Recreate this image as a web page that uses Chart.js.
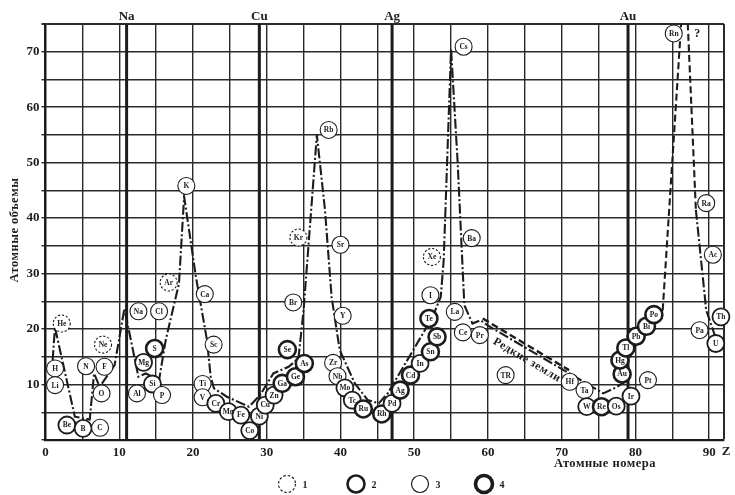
<!DOCTYPE html>
<html><head><meta charset="utf-8">
<script src="https://cdn.jsdelivr.net/npm/chart.js@4.4.1/dist/chart.umd.min.js"></script>
<style>html,body{margin:0;padding:0;background:#fff;}#wrap{width:735px;height:495px;}</style>
</head><body><div id="wrap"><canvas id="c" width="735" height="495"></canvas></div>
<script>
// ---------- data ----------
const elements = ['H','He','Li','Be','B','C','N','O','F','Ne','Na','Mg','Al','Si','P','S','Cl','Ar','K','Ca','Sc','Ti','V','Cr','Mn','Fe','Co','Ni','Cu','Zn','Ga','Ge','As','Se','Br','Kr','Rb','Sr','Y','Zr','Nb','Mo','Tc','Ru','Rh','Pd','Ag','Cd','In','Sn','Sb','Te','I','Xe','Cs','Ba','La','Ce','Pr','TR','Hf','Ta','W','Re','Os','Ir','Pt','Au','Hg','Tl','Pb','Bi','Po','Rn','Ra','Ac','Th','Pa','U'];
const elemZ = [1.3,2.2,1.3,2.9,5.1,7.4,5.5,7.6,8.0,7.8,12.6,13.3,12.4,14.5,15.8,14.8,15.4,16.7,19.1,21.6,22.8,21.3,21.3,23.1,24.8,26.5,27.7,29.0,29.8,31.0,32.1,33.9,35.1,32.8,33.6,34.3,38.4,40.0,40.3,39.0,39.6,40.6,41.6,43.1,45.6,47.0,48.1,49.5,50.8,52.2,53.1,52.0,52.2,52.4,56.7,57.8,55.5,56.6,58.9,62.4,71.1,73.1,73.4,75.4,77.4,79.4,81.7,78.2,77.9,78.7,80.1,81.5,82.5,85.2,89.6,90.5,91.6,88.7,90.9];
const elemV = [12.9,21.0,9.9,2.7,2.1,2.2,13.3,8.4,13.2,17.2,23.2,14.0,8.4,10.1,8.1,16.5,23.2,28.4,45.8,26.3,17.2,10.1,7.7,6.6,5.1,4.5,1.7,4.3,6.3,8.1,10.2,11.4,13.8,16.3,24.8,36.5,55.9,35.2,22.4,13.9,11.5,9.4,7.2,5.6,4.7,6.6,9.0,11.7,13.8,15.9,18.6,21.9,26.1,33.0,70.9,36.4,23.1,19.4,18.9,11.7,10.5,9.0,6.0,6.0,6.1,7.9,10.8,11.9,14.4,16.6,18.7,20.5,22.6,73.3,42.7,33.4,22.2,19.8,17.4];
// 1 = dashed, 2 = medium, 3 = thin, 4 = thick circle
const elemType = [3,1,3,2,2,3,3,3,3,1,3,2,3,2,3,4,3,1,3,3,3,3,3,2,2,2,2,2,2,2,4,4,4,4,3,1,3,3,3,3,3,2,2,4,4,2,4,4,2,4,4,4,3,1,3,3,3,3,3,3,3,3,2,4,2,2,3,4,4,4,4,4,4,3,3,3,2,3,2];

const curveZ = [0.97,1.28,3.98,6.0,6.58,7.35,9.37,10.7,12.6,13.6,15.4,16.3,18.1,18.8,20.4,21.9,22.4,22.85,24.6,27.6,29.1,30.9,32.96,34.3,35.0,36.8,37.9,38.8,39.9,41.95,43.7,45.2,46.4,49.6,52.5,53.6,54.0,55.0,55.9,56.8,57.9,59.0,59.9,75.65,77.4,78.6,79.0,79.9,83.7];
const curveV = [14.4,20.3,4.2,3.7,12.0,9.6,13.5,23.7,11.4,12.0,10.8,18.0,28.2,43.9,29.4,18.0,11.4,9.3,7.8,6.0,8.1,12.0,13.2,14.7,23.4,55.0,41.5,25.8,16.2,10.2,7.2,6.6,8.4,15.6,22.2,25.8,32.4,70.5,49.9,24.3,21.0,21.6,20.7,8.4,9.5,10.5,14.1,16.8,23.4];
const peakZ = [83.7,86.74,88.2];
const peakV = [23.4,86.1,41.5];
const tailZ = [88.2,89.6,91.1];
const tailV = [41.5,23.4,17.6];
const rareZ = [59.3,71.0];
const rareV = [21.9,12.6];

const xTickValues = [0,5,10,15,20,25,30,35,40,45,50,55,60,65,70,75,80,85,90,92];
const yTickValues = [0,5,10,15,20,25,30,35,40,45,50,55,60,65,70,75];
const groupZ = [11,29,47,79];
const groupNames = ['Na','Cu','Ag','Au'];
const legendLabels = ['1','2','3','4'];

// ---------- drawing ----------
const SERIF = '"Liberation Serif","DejaVu Serif",serif';
const INK = '#1c1c1c';
const typeWidth = {1:0, 2:1.8, 3:1.1, 4:2.6};
const pts = (xs, ys) => xs.map((v, i) => ({x: v, y: ys[i]}));
const lineDs = (data, dash, width, extra) => Object.assign({
  data, showLine: true, pointRadius: 0, borderColor: INK, borderWidth: width,
  borderDash: dash, tension: 0, order: 1
}, extra || {});

function ring(c, x, y, r, w, dash) {
  c.save();
  c.beginPath(); c.arc(x, y, r, 0, Math.PI * 2);
  c.fillStyle = '#fff'; c.fill();
  c.lineWidth = w; c.strokeStyle = INK;
  c.setLineDash(dash || []);
  c.stroke();
  c.restore();
}
function spaced(c, px) { try { c.letterSpacing = px; } catch (e) {} }

const decor = {
  id: 'decor',
  beforeDraw(chart) {
    const c = chart.ctx; c.save(); c.fillStyle = '#fff'; c.fillRect(0, 0, chart.width, chart.height); c.restore();
  },
  beforeDatasetsDraw(chart) {
    const {ctx: c, chartArea: a, scales: {x}} = chart;
    c.save();
    c.strokeStyle = INK; c.lineWidth = 3;
    groupZ.forEach(z => {
      const px = x.getPixelForValue(z);
      c.beginPath(); c.moveTo(px, a.top); c.lineTo(px, a.bottom); c.stroke();
    });
    c.restore();
  },
  afterDatasetsDraw(chart) {
    const {ctx: c, chartArea: a, scales: {x, y}} = chart;
    const meta = chart.getDatasetMeta(0);
    c.save();
    meta.data.forEach((p, i) => {
      if (elemType[i] === 1) {
        c.save(); c.beginPath(); c.setLineDash([2.2, 1.8]); c.lineWidth = 1.1; c.strokeStyle = INK;
        c.arc(p.x, p.y, 8.5, 0, Math.PI * 2); c.stroke(); c.restore();
      }
      c.fillStyle = INK; c.textAlign = 'center'; c.textBaseline = 'middle';
      c.font = 'bold 7.5px ' + SERIF;
      c.fillText(elements[i], p.x, p.y + 0.5);
    });
    // group labels on top
    c.font = 'bold 13px ' + SERIF; c.textAlign = 'center'; c.textBaseline = 'alphabetic';
    groupZ.forEach((z, i) => c.fillText(groupNames[i], x.getPixelForValue(z), 20));
    // question mark near the top peak
    c.font = 'bold 12px ' + SERIF; c.textBaseline = 'middle';
    c.fillText('?', x.getPixelForValue(88.4), y.getPixelForValue(73.3));
    // rare earth label
    c.save();
    c.translate(x.getPixelForValue(65.3), y.getPixelForValue(14.4));
    c.rotate(30.5 * Math.PI / 180);
    c.font = 'bold 11.5px ' + SERIF; c.textAlign = 'center'; c.textBaseline = 'middle';
    spaced(c, '0.6px');
    c.fillText('Редкие земли', 0, 0);
    c.restore();
    // Z after 90
    c.font = 'bold 13px ' + SERIF; c.textAlign = 'center'; c.textBaseline = 'middle';
    c.fillText('Z', x.getPixelForValue(90) + 17, 452);
    // axis titles
    c.save();
    c.font = 'bold 12.5px ' + SERIF; spaced(c, '0.5px');
    c.fillText('Атомные номера', 605, 464);
    c.translate(15, 230); c.rotate(-Math.PI / 2);
    c.fillText('Атомные объемы', 0, 0);
    c.restore();
    // legend
    const lx = [287, 356, 420, 484];
    const lw = [1.2, 2.6, 1.2, 3.6];
    lx.forEach((cx, i) => {
      ring(c, cx, 484, 8.5, lw[i], i === 0 ? [2.5, 2] : []);
      c.fillStyle = INK; c.font = 'bold 10px ' + SERIF; c.textAlign = 'center'; c.textBaseline = 'middle';
      c.fillText(legendLabels[i], cx + 18, 485);
    });
    c.restore();
  }
};

new Chart(document.getElementById('c'), {
  type: 'scatter',
  data: {
    datasets: [
      {data: pts(elemZ, elemV), pointRadius: 8.5, pointHoverRadius: 8.5, pointBackgroundColor: '#fff',
       pointBorderColor: INK, pointBorderWidth: elemType.map(t => typeWidth[t]), order: 0, clip: false},
      lineDs(pts(curveZ, curveV), [10, 2.5, 2, 2.5], 2.1),
      lineDs(pts(tailZ, tailV), [10, 2.5, 2, 2.5], 2.1),
      lineDs(pts(peakZ, peakV), [7, 3.5], 2.1, {clip: 0}),
      lineDs(pts(rareZ, rareV), [7, 3.5], 2.4)
    ]
  },
  plugins: [decor],
  options: {
    responsive: false, animation: false, events: [],
    layout: {padding: {top: 24, right: 7, left: 0, bottom: 0}},
    plugins: {legend: {display: false}, tooltip: {enabled: false}},
    scales: {
      x: {
        type: 'linear', min: 0, max: 92,
        afterBuildTicks: s => { s.ticks = xTickValues.map(v => ({value: v})); },
        afterFit: s => { s.height = 55; },
        ticks: {autoSkip: false, maxRotation: 0, padding: 5, color: INK,
                font: {family: SERIF, size: 13, weight: 'bold'},
                callback: v => (v % 10 === 0 ? String(v) : '')},
        grid: {color: '#2a2a2a', drawTicks: false,
               lineWidth: ctx => (ctx.tick && ctx.tick.value === 92 ? 2 : 1.4)},
        border: {display: true, color: INK, width: 2.2}
      },
      y: {
        type: 'linear', min: 0, max: 75,
        afterBuildTicks: s => { s.ticks = yTickValues.map(v => ({value: v})); },
        afterFit: s => { s.width = 45.5; },
        ticks: {autoSkip: false, padding: 2, color: INK,
                font: {family: SERIF, size: 13, weight: 'bold'},
                callback: v => (v % 10 === 0 && v !== 0 ? String(v) : '')},
        grid: {color: '#2a2a2a', tickLength: 4,
               lineWidth: ctx => (ctx.tick && ctx.tick.value === 75 ? 2 : 1.4)},
        border: {display: true, color: INK, width: 2.2}
      }
    }
  }
});
</script>
</body></html>
